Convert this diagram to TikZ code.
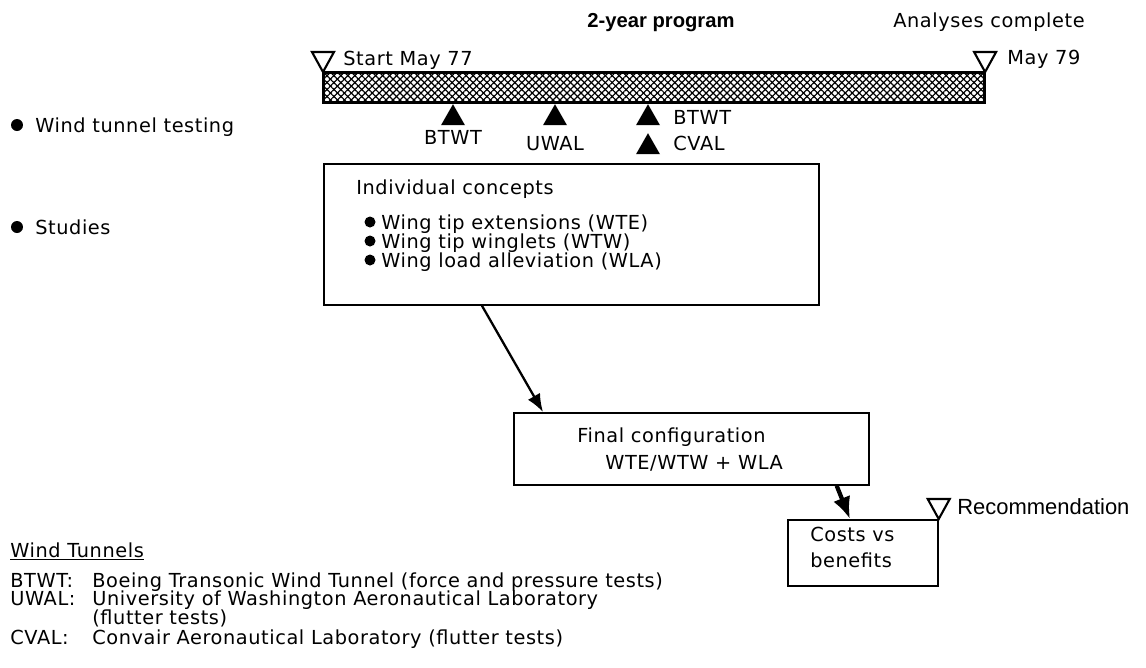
\documentclass[tikz,border=0pt]{standalone}
\usepackage{fontspec}
\setmainfont{DejaVu Sans}[LetterSpace=3]
\newfontfamily\narrowsans{Liberation Sans}
\usepackage{tikz}
\usetikzlibrary{patterns}
\usetikzlibrary{patterns.meta}
\usetikzlibrary{arrows.meta}
\usetikzlibrary{calc}
\tikzset{box/.style={draw, line width=1pt, inner sep=0pt, anchor=north west},
         txt/.style={anchor=west, inner sep=0pt, text height=8pt, text depth=0pt,
                     font=\fontsize{11}{13}\selectfont},
         flow/.style={-{Latex[length=3.6mm,width=2.8mm]}, line width=1.3pt}}
\newcommand{\openmark}[1]{\draw[line width=1.2pt, line join=miter] (#1) -- ++(-11,-20) -- ++(22,0) -- cycle;}
\newcommand{\testmark}[1]{\fill (#1) -- ++(-12,21) -- ++(24,0) -- cycle;}

\begin{document}
\begin{tikzpicture}[x=0.02cm,y=-0.02cm]
\useasboundingbox (0,0) rectangle (1146,667);

% program bar
\node[box, line width=1.6pt, minimum width=13.22cm, minimum height=0.6cm,
      pattern={Lines[angle=45, distance=2.8pt, line width=0.7pt]},
      postaction={pattern={Lines[angle=-45, distance=2.8pt, line width=0.7pt]}}] (bar) at (323,72) {};
\node[font=\narrowsans\bfseries\fontsize{11.5}{13}\selectfont] (prog) at (661,23) {2-year program};
\node[txt, anchor=center] (analyses) at (989,20) {Analyses complete};
\openmark{bar.north west}
\node[txt] (start) at (343,58) {Start May 77};
\openmark{bar.north east}
\node[txt] (finish) at (1007,57) {May 79};

% tunnel tests
\testmark{$(bar.south west)+(130,1)$}
\testmark{$(bar.south west)+(232,1)$}
\testmark{$(bar.south west)+(325,1)$}
\testmark{$(bar.south west)+(325,30)$}
\node[txt, anchor=center] (btwta) at (453,137) {BTWT};
\node[txt, anchor=center] (uwal) at (555,143) {UWAL};
\node[txt] (btwtb) at (673,117) {BTWT};
\node[txt] (cval) at (673,143) {CVAL};

% left column
\fill (17,125) circle[radius=0.12cm];
\node[txt] (wtt) at (35,125) {Wind tunnel testing};
\fill (17,227) circle[radius=0.12cm];
\node[txt] (studies) at (35,227) {Studies};

% studies
\node[box, minimum width=9.9cm, minimum height=2.82cm] (concepts) at (323,163) {};
\node[txt] (indiv) at (356,187) {Individual concepts};
\fill (370,222) circle[radius=0.11cm];
\node[txt] (wte) at (381,222) {Wing tip extensions (WTE)};
\fill (370,241) circle[radius=0.11cm];
\node[txt] (wtw) at (381,241) {Wing tip winglets (WTW)};
\fill (370,260) circle[radius=0.11cm];
\node[txt] (wla) at (381,260) {Wing load alleviation (WLA)};

\node[box, minimum width=7.1cm, minimum height=1.44cm] (final) at (513,412) {};
\node[txt] (fconf) at (577,435) {Final configuration};
\node[txt] (fmix) at (605,462) {WTE/WTW + WLA};

\node[box, minimum width=3cm, minimum height=1.32cm] (costs) at (787,519) {};
\node[txt] (cvs) at (810,534) {Costs vs};
\node[txt] (cben) at (810,560) {benefits};
\openmark{costs.north east}
\node[txt, font=\narrowsans\fontsize{12.5}{14}\selectfont] (recom) at (957,507) {Recommendation};

\draw[flow] ([xshift=3.18cm]concepts.south west) -- ([xshift=0.6cm]final.north west);
\draw[flow, line width=2.4pt, -{Latex[length=4.4mm,width=3.6mm]}] ([xshift=-0.66cm]final.south east) -- ([xshift=1.26cm]costs.north west);

% legend
\node[txt] (wtun) at (10,550) {\underline{Wind Tunnels}};
\node[txt] (ka) at (10,580) {BTWT:};
\node[txt] (da) at (92,580) {Boeing Transonic Wind Tunnel (force and pressure tests)};
\node[txt] (kb) at (10,598) {UWAL:};
\node[txt] (db) at (92,598) {University of Washington Aeronautical Laboratory};
\node[txt] (dbb) at (92,617) {(flutter tests)};
\node[txt] (kc) at (10,637) {CVAL:};
\node[txt] (dc) at (92,637) {Convair Aeronautical Laboratory (flutter tests)};

\end{tikzpicture}
\end{document}
